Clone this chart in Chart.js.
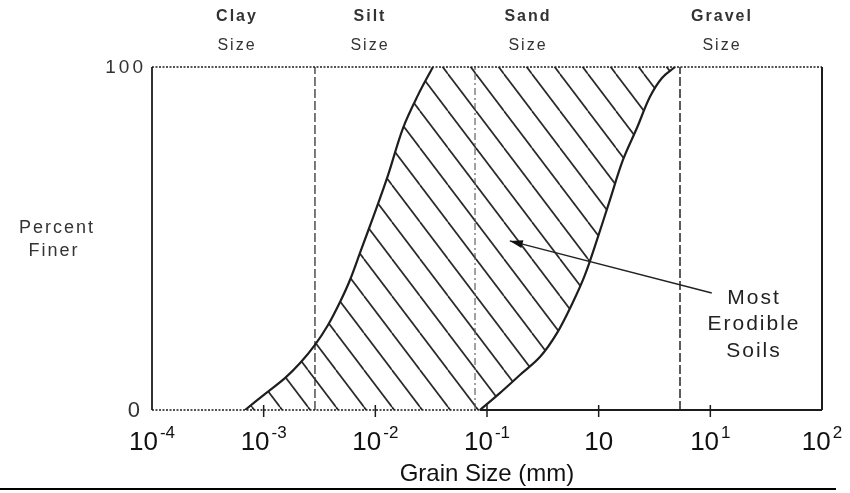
<!DOCTYPE html>
<html>
<head>
<meta charset="utf-8">
<script src="https://cdn.jsdelivr.net/npm/chart.js@4.4.1/dist/chart.umd.min.js"></script>
<style>
  html, body { margin: 0; padding: 0; background: #fff; }
  #wrap { width: 850px; height: 493px; }
</style>
</head>
<body>
<div id="wrap"><canvas id="c" width="850" height="493"></canvas></div>
<script>
// ---- Axis definitions -------------------------------------------------
// Grain size (mm) on a log axis; label parts are base + exponent
const sizeTicks = [1e-4, 1e-3, 1e-2, 1e-1, 1, 1e1, 1e2];
const tickBase = ['10', '10', '10', '10', '10', '10', '10'];
const tickExponent = ['-4', '-3', '-2', '-1', '', '1', '2'];
const percentTicks = [0, 100];

// ---- Erodible soil band -------------------------------------------------
// Fine-side boundary (grain size mm, percent finer)
const fineSize = [0.000681, 0.00103, 0.00155, 0.00212, 0.00288, 0.00377, 0.00483,
                  0.00593, 0.00744, 0.00973, 0.0130, 0.0177, 0.0241, 0.0328];
const finePercent = [0, 4.7, 9.3, 13.7, 19.0, 24.8, 31.5,
                     37.9, 46.6, 56.9, 68.5, 82.2, 91.8, 100];
// Coarse-side boundary
const coarseSize = [0.0865, 0.131, 0.197, 0.299, 0.423, 0.589, 0.754,
                    0.966, 1.26, 1.65, 2.20, 2.88, 3.69, 4.83];
const coarsePercent = [0, 5.0, 10.2, 15.5, 22.4, 31.5, 39.4,
                       49.6, 61.2, 72.9, 82.2, 91.3, 96.8, 100];

// ---- Soil classes ---------------------------------------------------------
const classNames = ['Clay', 'Silt', 'Sand', 'Gravel'];
const classLimits = [0.00288, 0.0781, 5.35];   // mm, boundaries between classes

// ---- Text ---------------------------------------------------------------
const calloutLines = ['Most', 'Erodible', 'Soils'];
const xTitle = 'Grain Size (mm)';
const yTitleLines = ['Percent', 'Finer'];

const pts = (xs, ys) => xs.map((v, i) => ({ x: v, y: ys[i] }));
const fineCurve = pts(fineSize, finePercent);
const coarseCurve = pts(coarseSize, coarsePercent);
// closed outline of the band: up the fine side, back down the coarse side
const bandOutline = fineCurve.concat(coarseCurve.slice().reverse());

const canvas = document.getElementById('c');
const ctx = canvas.getContext('2d');

// diagonal hatching running from upper left to lower right
function hatch(context) {
  const w = 28, h = 37;
  const t = document.createElement('canvas');
  t.width = w; t.height = h;
  const g = t.getContext('2d');
  g.strokeStyle = '#2a2a2a';
  g.lineWidth = 1.7;
  for (const off of [-w, 0, w]) {
    g.beginPath();
    g.moveTo(off, 0);
    g.lineTo(off + w, h);
    g.stroke();
  }
  return context.createPattern(t, 'repeat');
}

const limitStyles = [
  { color: '#333', width: 1.3, dash: [9, 3] },
  { color: '#555', width: 1.1, dash: [7, 3, 2, 3] },
  { color: '#333', width: 1.6, dash: [9, 3] }
];

const limitSets = classLimits.map((v, i) => ({
  data: [{ x: v, y: percentTicks[0] }, { x: v, y: percentTicks[1] }],
  borderColor: limitStyles[i].color,
  borderWidth: limitStyles[i].width,
  borderDash: limitStyles[i].dash,
  pointRadius: 0,
  fill: false,
  order: 3
}));

const callout = { tip: { x: 0.16, y: 49.3 }, tail: { x: 10.3, y: 34.1 } };

const ink = '#1c1c1c';
const FONT = '"Liberation Sans", Arial, sans-serif';

function supLabel(c, base, exp, cx, baseline) {
  c.font = '26px ' + FONT;
  const bw = c.measureText(base).width;
  c.font = '17px ' + FONT;
  const ew = exp ? c.measureText(exp).width + 2 : 0;
  const x0 = cx - (bw + ew) / 2;
  c.textAlign = 'left';
  c.textBaseline = 'alphabetic';
  c.font = '26px ' + FONT;
  c.fillText(base, x0, baseline);
  if (exp) {
    c.font = '17px ' + FONT;
    c.fillText(exp, x0 + bw + 2, baseline - 12);
  }
}

const decor = {
  id: 'decor',
  afterDraw(chart) {
    const c = chart.ctx;
    const a = chart.chartArea;
    const xs = chart.scales.x, ys = chart.scales.y;
    c.save();

    // plot frame
    c.strokeStyle = ink;
    c.lineWidth = 1.8;
    c.setLineDash([]);
    c.beginPath(); c.moveTo(a.left, a.top); c.lineTo(a.left, a.bottom); c.stroke();
    c.lineWidth = 2;
    c.beginPath(); c.moveTo(a.right, a.top); c.lineTo(a.right, a.bottom); c.stroke();
    c.lineWidth = 1.5;
    c.setLineDash([2, 1.5]);
    c.beginPath(); c.moveTo(a.left, a.top); c.lineTo(a.right, a.top); c.stroke();
    const split = xs.getPixelForValue(coarseSize[0]);
    c.beginPath(); c.moveTo(a.left, a.bottom); c.lineTo(split, a.bottom); c.stroke();
    c.setLineDash([]);
    c.lineWidth = 2.2;
    c.beginPath(); c.moveTo(split, a.bottom); c.lineTo(a.right, a.bottom); c.stroke();

    // tick marks and labels along the size axis
    c.fillStyle = '#111';
    sizeTicks.forEach((v, i) => {
      const px = xs.getPixelForValue(v);
      if (i > 0 && i < sizeTicks.length - 1) {
        c.lineWidth = 1.5;
        c.beginPath(); c.moveTo(px, a.bottom - 5); c.lineTo(px, a.bottom + 7); c.stroke();
      }
      supLabel(c, tickBase[i], tickExponent[i], px, a.bottom + 40);
    });

    // axis title
    c.font = '24px ' + FONT;
    c.textAlign = 'center';
    c.textBaseline = 'alphabetic';
    c.fillText(xTitle, (a.left + a.right) / 2, a.bottom + 71);

    // percent labels
    c.fillStyle = '#333';
    c.textAlign = 'right';
    c.textBaseline = 'middle';
    c.font = '22px ' + FONT;
    c.fillText(String(percentTicks[0]), a.left - 12, ys.getPixelForValue(percentTicks[0]) + 1);
    c.font = '19px ' + FONT;
    c.letterSpacing = '3px';
    c.fillText(String(percentTicks[1]), a.left - 6, ys.getPixelForValue(percentTicks[1]) + 1);

    c.textAlign = 'center';
    c.font = '18px ' + FONT;
    c.letterSpacing = '2px';
    c.fillText(yTitleLines[0], 57, 228);
    c.fillText(yTitleLines[1], 54, 251);

    // soil class headings
    const headX = [237, 370, 528, 722];
    classNames.forEach((n, i) => {
      c.font = 'bold 16px ' + FONT;
      c.fillText(n, headX[i], 17);
      c.font = '16px ' + FONT;
      c.fillText('Size', headX[i], 46);
    });
    c.letterSpacing = '0px';

    // callout arrow
    const tx = xs.getPixelForValue(callout.tip.x), ty = ys.getPixelForValue(callout.tip.y);
    const sx = xs.getPixelForValue(callout.tail.x), sy = ys.getPixelForValue(callout.tail.y);
    c.strokeStyle = '#222';
    c.lineWidth = 1.4;
    c.beginPath(); c.moveTo(sx, sy); c.lineTo(tx, ty); c.stroke();
    const ang = Math.atan2(ty - sy, tx - sx);
    c.fillStyle = '#111';
    c.beginPath();
    c.moveTo(tx, ty);
    c.lineTo(tx - 13 * Math.cos(ang) + 4 * Math.sin(ang), ty - 13 * Math.sin(ang) - 4 * Math.cos(ang));
    c.lineTo(tx - 13 * Math.cos(ang) - 4 * Math.sin(ang), ty - 13 * Math.sin(ang) + 4 * Math.cos(ang));
    c.closePath(); c.fill();

    c.fillStyle = '#222';
    c.font = '21px ' + FONT;
    c.textAlign = 'center';
    c.textBaseline = 'middle';
    c.letterSpacing = '2px';
    calloutLines.forEach((t, i) => c.fillText(t, 754, 298 + i * 26.5));
    c.letterSpacing = '0px';

    // rule under the figure
    c.strokeStyle = '#000';
    c.lineWidth = 2;
    c.beginPath(); c.moveTo(0, 489); c.lineTo(836, 489); c.stroke();

    c.restore();
  }
};

new Chart(ctx, {
  type: 'line',
  data: {
    datasets: [
      {
        data: bandOutline,
        fill: 'shape',
        backgroundColor: hatch(ctx),
        borderWidth: 0,
        pointRadius: 0,
        tension: 0,
        order: 4
      },
      {
        data: fineCurve,
        borderColor: '#1e1e1e',
        borderWidth: 2.2,
        pointRadius: 0,
        tension: 0.35,
        fill: false,
        order: 1
      },
      {
        data: coarseCurve,
        borderColor: '#1e1e1e',
        borderWidth: 2.2,
        pointRadius: 0,
        tension: 0.35,
        fill: false,
        order: 1
      },
      ...limitSets
    ]
  },
  options: {
    responsive: false,
    devicePixelRatio: 1,
    animation: false,
    layout: { padding: { left: 152, right: 28, top: 67, bottom: 83 } },
    plugins: { legend: { display: false }, tooltip: { enabled: false } },
    scales: {
      x: { type: 'logarithmic', min: sizeTicks[0], max: sizeTicks[sizeTicks.length - 1], display: false },
      y: { type: 'linear', min: percentTicks[0], max: percentTicks[1], display: false }
    }
  },
  plugins: [decor]
});
</script>
</body>
</html>
